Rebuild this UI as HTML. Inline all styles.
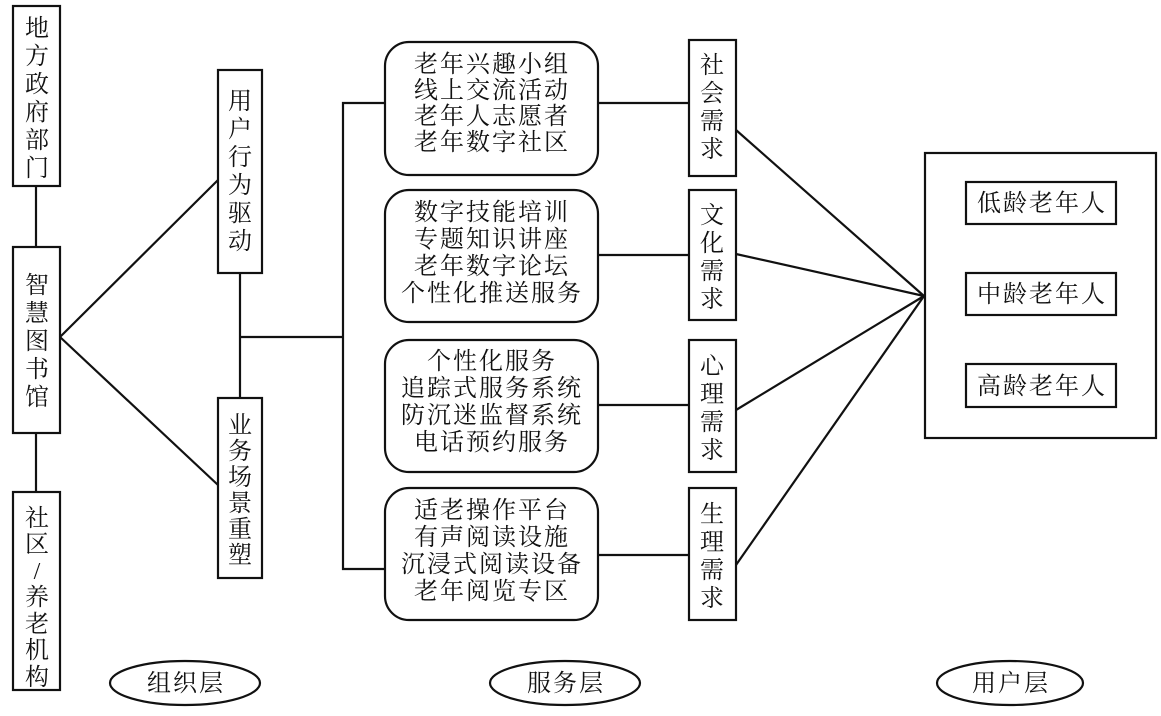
<!DOCTYPE html>
<html><head><meta charset="utf-8"><style>
html,body{margin:0;padding:0;background:#fff;}
svg text{font-family:"Liberation Serif","Noto Serif CJK SC","Noto Serif CJK TC",serif;font-size:24px;fill:#111;}
.h{letter-spacing:2px;}
</style></head><body>
<svg width="1161" height="711" viewBox="0 0 1161 711" xmlns="http://www.w3.org/2000/svg">
<g fill="none" stroke="#111" stroke-width="2.2">
<rect x="13" y="6" width="47" height="180"/>
<rect x="13" y="247" width="47" height="186"/>
<rect x="13" y="492" width="47" height="198"/>
<line x1="36" y1="186" x2="36" y2="247"/>
<line x1="36" y1="433" x2="36" y2="492"/>
<rect x="218" y="70" width="44" height="203"/>
<rect x="218" y="398" width="44" height="180"/>
<line x1="60" y1="337" x2="218" y2="180"/>
<line x1="60" y1="337" x2="218" y2="485"/>
<line x1="240" y1="273" x2="240" y2="398"/>
<line x1="240" y1="337" x2="343" y2="337"/>
<polyline points="385,103 343,103 343,569 385,569"/>
<rect x="385" y="42" width="213" height="133" rx="24"/>
<rect x="385" y="190" width="213" height="132" rx="24"/>
<rect x="385" y="340" width="213" height="132" rx="24"/>
<rect x="385" y="488" width="213" height="132" rx="24"/>
<rect x="689" y="40" width="47" height="136"/>
<rect x="689" y="190" width="47" height="130"/>
<rect x="689" y="340" width="47" height="132"/>
<rect x="689" y="488" width="47" height="132"/>
<line x1="598" y1="103" x2="689" y2="103"/>
<line x1="598" y1="255" x2="689" y2="255"/>
<line x1="598" y1="405" x2="689" y2="405"/>
<line x1="598" y1="555" x2="689" y2="555"/>
<line x1="736" y1="130" x2="924" y2="296"/>
<line x1="736" y1="254" x2="924" y2="296"/>
<line x1="736" y1="410" x2="924" y2="296"/>
<line x1="736" y1="565" x2="924" y2="296"/>
<rect x="925" y="153" width="231" height="285"/>
<rect x="966" y="182" width="150" height="42"/>
<rect x="966" y="273" width="150" height="42"/>
<rect x="966" y="364" width="150" height="43"/>
<ellipse cx="185" cy="683" rx="75" ry="22"/>
<ellipse cx="565" cy="683" rx="75" ry="22"/>
<ellipse cx="1010" cy="683" rx="73" ry="22"/>
</g>
<g text-anchor="middle">
<text x="37" y="36">地</text><text x="37" y="64">方</text><text x="37" y="92">政</text><text x="37" y="120">府</text><text x="37" y="148">部</text><text x="37" y="176">门</text>
<text x="37" y="293">智</text><text x="37" y="321">慧</text><text x="37" y="349">图</text><text x="37" y="377">书</text><text x="37" y="405">馆</text>
<text x="37" y="526">社</text><text x="37" y="552">区</text><text x="37" y="579">/</text><text x="37" y="605">养</text><text x="37" y="632">老</text><text x="37" y="658">机</text><text x="37" y="685">构</text>
<text x="240" y="109">用</text><text x="240" y="137">户</text><text x="240" y="165">行</text><text x="240" y="193">为</text><text x="240" y="221">驱</text><text x="240" y="249">动</text>
<text x="240" y="433">业</text><text x="240" y="459">务</text><text x="240" y="485">场</text><text x="240" y="511">景</text><text x="240" y="537">重</text><text x="240" y="563">塑</text>
<g class="h">
<text x="492" y="72">老年兴趣小组</text><text x="492" y="98">线上交流活动</text><text x="492" y="124">老年人志愿者</text><text x="492" y="150">老年数字社区</text>
<text x="492" y="220">数字技能培训</text><text x="492" y="247">专题知识讲座</text><text x="492" y="274">老年数字论坛</text><text x="492" y="301">个性化推送服务</text>
<text x="492" y="369">个性化服务</text><text x="492" y="396">追踪式服务系统</text><text x="492" y="423">防沉迷监督系统</text><text x="492" y="450">电话预约服务</text>
<text x="492" y="518">适老操作平台</text><text x="492" y="545">有声阅读设施</text><text x="492" y="572">沉浸式阅读设备</text><text x="492" y="599">老年阅览专区</text>
<text x="1042" y="211">低龄老年人</text><text x="1042" y="302">中龄老年人</text><text x="1042" y="394">高龄老年人</text>
<text x="186" y="691">组织层</text><text x="566" y="691">服务层</text><text x="1011" y="691">用户层</text>
</g>
<text x="712" y="73">社</text><text x="712" y="101">会</text><text x="712" y="129">需</text><text x="712" y="157">求</text>
<text x="712" y="223">文</text><text x="712" y="251">化</text><text x="712" y="279">需</text><text x="712" y="307">求</text>
<text x="712" y="374">心</text><text x="712" y="402">理</text><text x="712" y="430">需</text><text x="712" y="458">求</text>
<text x="712" y="522">生</text><text x="712" y="550">理</text><text x="712" y="578">需</text><text x="712" y="606">求</text>
</g>
</svg>
</body></html>
